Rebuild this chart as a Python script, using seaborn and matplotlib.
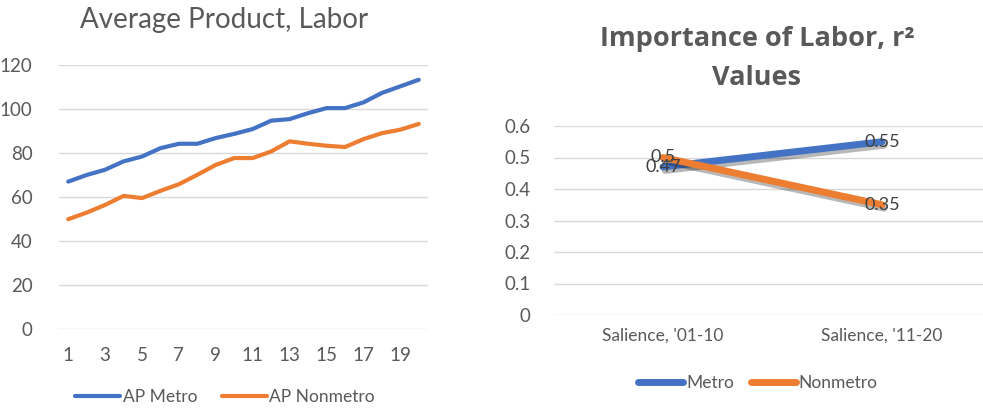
import matplotlib
matplotlib.use("Agg")
import matplotlib.pyplot as plt
import matplotlib.patheffects as pe
import seaborn as sns
import pandas as pd

# ---------------- data ----------------
periods = list(range(1, 21))
ap_metro = [67.0, 70.0, 72.4, 76.2, 78.4, 82.2, 84.2, 84.2, 86.8, 88.7,
            90.9, 94.7, 95.4, 98.1, 100.4, 100.4, 103.0, 107.3, 110.3, 113.3]
ap_nonmetro = [49.9, 52.9, 56.4, 60.5, 59.5, 62.8, 65.8, 70.1, 74.6, 77.7,
               77.7, 80.7, 85.3, 84.2, 83.3, 82.7, 86.3, 89.0, 90.6, 93.2]
left_series = ["AP Metro", "AP Nonmetro"]
left_xticks = [1, 3, 5, 7, 9, 11, 13, 15, 17, 19]
left_yticks = [0, 20, 40, 60, 80, 100, 120]

salience_cats = ["Salience, '01-10", "Salience, '11-20"]
r2_metro = [0.47, 0.55]
r2_nonmetro = [0.5, 0.35]
right_series = ["Metro", "Nonmetro"]
right_yticks = [0, 0.1, 0.2, 0.3, 0.4, 0.5, 0.6]

BLUE = "#4472C4"
ORANGE = "#ED7D31"
GRID = "#D9D9D9"
TXT = "#595959"

sns.set_theme(style="white")
plt.rcParams["font.family"] = ["Lato", "DejaVu Sans"]

W, H = 983, 409
fig = plt.figure(figsize=(W / 100, H / 100), dpi=100)
fig.patch.set_facecolor("white")

def px_axes(l, t, r, b):
    return fig.add_axes([l / W, 1 - b / H, (r - l) / W, (b - t) / H])

def style_axes(ax):
    for s in ax.spines.values():
        s.set_visible(False)
    ax.grid(axis="y", color=GRID, linewidth=1.0)
    ax.grid(axis="x", visible=False)
    ax.set_axisbelow(True)
    ax.tick_params(axis="both", length=0, colors=TXT, labelsize=13.5)
    ax.set_xlabel("")
    ax.set_ylabel("")

# ---------------- left chart ----------------
df_left = pd.DataFrame({
    "period": periods * 2,
    "value": ap_metro + ap_nonmetro,
    "series": [left_series[0]] * len(periods) + [left_series[1]] * len(periods),
})
ax1 = px_axes(59, 65, 428, 329)
sns.lineplot(data=df_left, x="period", y="value", hue="series",
             palette=[BLUE, ORANGE], linewidth=3.0, ax=ax1,
             solid_capstyle="round", legend=False)
style_axes(ax1)
ax1.set_xlim(0.5, 20.5)
ax1.set_ylim(0, 120)
ax1.set_xticks(left_xticks)
ax1.set_yticks(left_yticks)
ax1.tick_params(axis="y", pad=19)
ax1.tick_params(axis="x", pad=13)
fig.text(224 / W, 1 - 20 / H, "Average Product, Labor", ha="center", va="center",
         fontsize=20, color=TXT)
h1 = [plt.Line2D([], [], color=BLUE, lw=3.0), plt.Line2D([], [], color=ORANGE, lw=3.0)]
fig.legend(h1, left_series, loc="center", bbox_to_anchor=(225 / W, 1 - 397 / H),
           ncol=2, frameon=False, fontsize=12.5, labelcolor=TXT,
           handlelength=2.6, handletextpad=0.15, columnspacing=1.4)

# ---------------- right chart ----------------
df_right = pd.DataFrame({
    "cat": salience_cats * 2,
    "value": r2_metro + r2_nonmetro,
    "series": [right_series[0]] * 2 + [right_series[1]] * 2,
})
ax2 = px_axes(554, 126, 983, 315)
sns.lineplot(data=df_right, x="cat", y="value", hue="series", sort=False,
             palette=[BLUE, ORANGE], linewidth=5.0, ax=ax2, legend=False,
             solid_capstyle="round")
shadow = [pe.SimpleLineShadow(offset=(1.5, -2.5), shadow_color="black", alpha=0.28, rho=0.5),
          pe.Normal()]
for ln in ax2.get_lines():
    ln.set_path_effects(shadow)
style_axes(ax2)
ax2.set_ylim(0, 0.6)
ax2.set_yticks(right_yticks)
ax2.set_yticklabels(["0" if v == 0 else f"{v:.1f}" for v in right_yticks])
x0 = -(663 - 554) / 219
x1 = 1 + (983 - 882) / 219
ax2.set_xlim(x0, x1)
ax2.tick_params(axis="y", pad=17)
ax2.tick_params(axis="x", pad=9, labelsize=12.5)
for vals in (r2_metro, r2_nonmetro):
    for i, v in enumerate(vals):
        ax2.text(i, v, f"{v:g}", ha="center", va="center", fontsize=13,
                 color="#404040")
fig.text(757 / W, 1 - 39 / H, "Importance of Labor, r²", ha="center", va="center",
         fontsize=19.5, fontweight="bold", color=TXT, family=["Open Sans", "DejaVu Sans"])
fig.text(757 / W, 1 - 78 / H, "Values", ha="center", va="center",
         fontsize=19.5, fontweight="bold", color=TXT, family=["Open Sans", "DejaVu Sans"])
h2 = [plt.Line2D([], [], color=BLUE, lw=5.0), plt.Line2D([], [], color=ORANGE, lw=5.0)]
fig.legend(h2, right_series, loc="center", bbox_to_anchor=(758 / W, 1 - 383 / H),
           ncol=2, frameon=False, fontsize=12.5, labelcolor=TXT,
           handlelength=2.6, handletextpad=0.15, columnspacing=1.0)

fig.savefig("out.png", dpi=100, facecolor="white")
